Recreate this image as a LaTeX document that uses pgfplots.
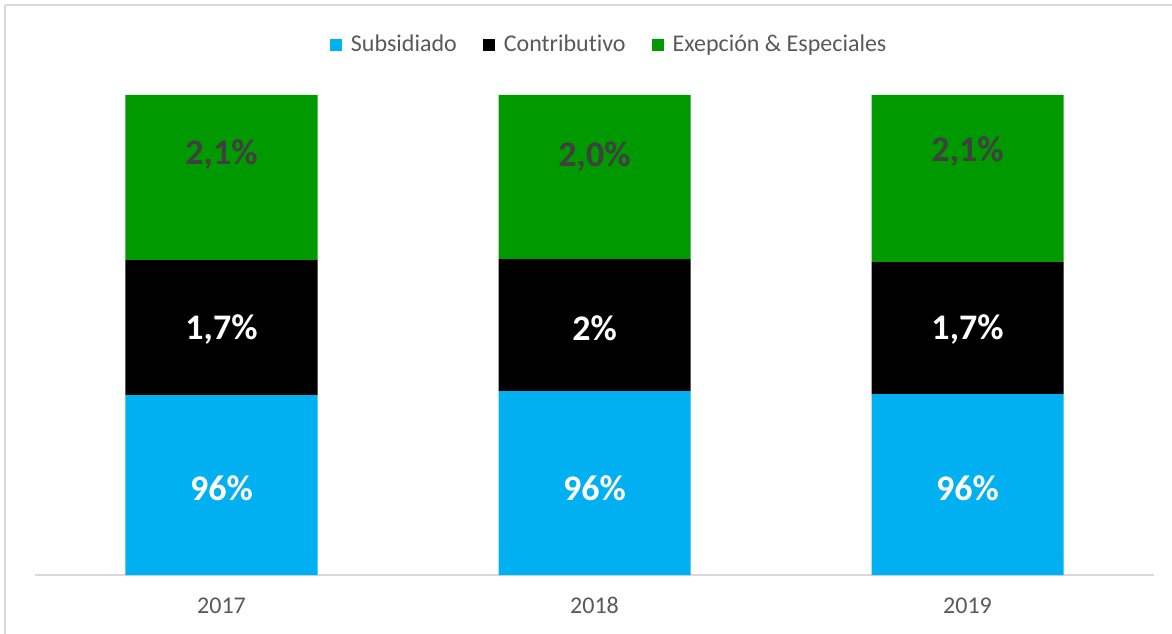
\documentclass[border=0pt]{standalone}
\usepackage{pgfplots}
\pgfplotsset{compat=1.18}
\usepackage{fontspec}
\setmainfont[Ligatures=NoCommon]{Carlito}
\definecolor{cblue}{HTML}{00B0F0}
\definecolor{cgreen}{HTML}{009900}
\definecolor{ctext}{HTML}{595959}
\definecolor{cdark}{HTML}{404040}
\definecolor{cline}{HTML}{D9D9D9}
\pgfplotsset{geom/.style={at={(0pt,0pt)}, anchor=south west, scale only axis,
  width=559.5pt, height=240pt, xmin=-0.5, xmax=2.5, ymin=0, ymax=480, clip=false}}
\begin{document}
\begin{tikzpicture}
\useasboundingbox (-17.5pt,-29pt) rectangle (568.5pt,287.5pt);
\draw[cline, line width=1pt] (-15pt,285.2pt) -- (570pt,285.2pt);
\draw[cline, line width=1pt] (-15pt,285.2pt) -- (-15pt,-31pt);
\begin{axis}[
  geom,
  ybar stacked, bar width=96pt,
  xtick={0,1,2}, xticklabels={2017,2018,2019},
  ytick=\empty,
  axis x line*=bottom, axis y line=none,
  x axis line style={cline, line width=0.8pt},
  major tick length=0pt,
  xticklabel style={font=\fontsize{12}{14}\selectfont, text=ctext, anchor=base, yshift=-19pt},
  legend style={at={(0.514,1.104)}, anchor=center, draw=none, fill=none,
    font=\fontsize{12}{14}\selectfont, text=ctext, legend columns=-1,
    /tikz/every odd column/.append style={column sep=2.5pt},
    /tikz/every even column/.append style={column sep=11pt}},
  legend image code/.code={\fill[#1] (0pt,-3pt) rectangle (6pt,3pt);},
]
\addplot[fill=cblue, draw=none] coordinates {(0,180) (1,184) (2,181)};
\addplot[fill=black, draw=none] coordinates {(0,135) (1,132) (2,132)};
\addplot[fill=cgreen, draw=none] coordinates {(0,165) (1,164) (2,167)};
\legend{Subsidiado, Contributivo, Exepción \& Especiales}
\end{axis}
\begin{axis}[geom, hide axis,
  nodes near coords, point meta=explicit symbolic,
  every node near coord/.append style={anchor=center, font=\bfseries\fontsize{18}{20}\selectfont}]
\addplot[only marks, mark=none, every node near coord/.append style={text=white}]
  table[meta=lab] {x y lab
0 87 96\%
1 87 96\%
2 87 96\%
};
\addplot[only marks, mark=none, every node near coord/.append style={text=white}]
  table[meta=lab] {x y lab
0 245 1,7\%
1 247 2\%
2 245 1,7\%
};
\addplot[only marks, mark=none, every node near coord/.append style={text=cdark}]
  table[meta=lab] {x y lab
0 420 2,1\%
1 418 2,0\%
2 423 2,1\%
};
\end{axis}
\end{tikzpicture}
\end{document}
